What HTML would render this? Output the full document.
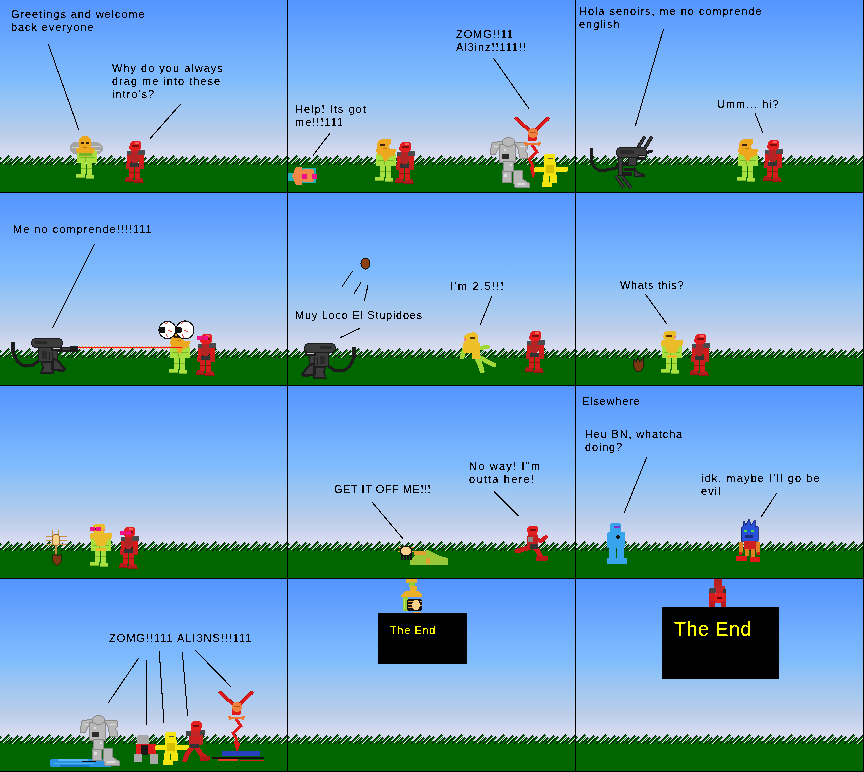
<!DOCTYPE html>
<html><head><meta charset="utf-8">
<style>
html,body{margin:0;padding:0;background:#000;}
body{width:864px;height:772px;position:relative;overflow:hidden;font-family:"Liberation Sans",sans-serif;}
.p{position:absolute;width:287px;height:192px;overflow:hidden;background:linear-gradient(to bottom,#5494ff 0px,#6aa8fe 40px,#76b3fe 60px,#7ebbfd 80px,#96c4f4 100px,#aacaee 120px,#bccdea 135px,#d0d8ee 150px,#d6dcf0 155px);}
.g{position:absolute;left:0;top:155px;width:287px;height:37px;}
.t{position:absolute;font-size:11px;line-height:13px;color:#000;white-space:pre;filter:url(#crisp);}
svg{position:absolute;left:0;top:0;}
</style></head><body>

<svg width="0" height="0" style="position:absolute" shape-rendering="crispEdges"><defs><pattern id="gr" x="0" y="0" width="62" height="37" patternUnits="userSpaceOnUse">
<rect x="0" y="7" width="62" height="30" fill="#006600"/>
<path fill="#006600" d="M-54,1h2v1h-2zM-55,2h2v1h-2zM-56,3h2v1h-2zM-53,3h1v1h-1zM-57,4h2v1h-2zM-54,4h1v1h-1zM-58,5h2v1h-2zM-55,5h1v1h-1zM-59,6h2v1h-2zM-56,6h1v1h-1zM-60,7h2v1h-2zM-57,7h1v1h-1zM-61,8h2v1h-2zM-58,8h1v1h-1zM-62,9h2v1h-2zM8,1h2v1h-2zM7,2h2v1h-2zM6,3h2v1h-2zM9,3h1v1h-1zM5,4h2v1h-2zM8,4h1v1h-1zM4,5h2v1h-2zM7,5h1v1h-1zM3,6h2v1h-2zM6,6h1v1h-1zM2,7h2v1h-2zM5,7h1v1h-1zM1,8h2v1h-2zM4,8h1v1h-1zM0,9h2v1h-2zM70,1h2v1h-2zM69,2h2v1h-2zM68,3h2v1h-2zM71,3h1v1h-1zM67,4h2v1h-2zM70,4h1v1h-1zM66,5h2v1h-2zM69,5h1v1h-1zM65,6h2v1h-2zM68,6h1v1h-1zM64,7h2v1h-2zM67,7h1v1h-1zM63,8h2v1h-2zM66,8h1v1h-1zM62,9h2v1h-2zM-51,4h2v1h-2zM-52,5h2v1h-2zM-53,6h2v1h-2zM-54,7h2v1h-2zM-55,8h2v1h-2zM-56,9h2v1h-2zM11,4h2v1h-2zM10,5h2v1h-2zM9,6h2v1h-2zM8,7h2v1h-2zM7,8h2v1h-2zM6,9h2v1h-2zM73,4h2v1h-2zM72,5h2v1h-2zM71,6h2v1h-2zM70,7h2v1h-2zM69,8h2v1h-2zM68,9h2v1h-2zM-45,2h2v1h-2zM-46,3h2v1h-2zM-47,4h2v1h-2zM-44,4h1v1h-1zM-48,5h2v1h-2zM-45,5h1v1h-1zM-49,6h2v1h-2zM-46,6h1v1h-1zM-50,7h2v1h-2zM-47,7h1v1h-1zM-51,8h2v1h-2zM-48,8h1v1h-1zM-52,9h2v1h-2zM-49,9h1v1h-1zM17,2h2v1h-2zM16,3h2v1h-2zM15,4h2v1h-2zM18,4h1v1h-1zM14,5h2v1h-2zM17,5h1v1h-1zM13,6h2v1h-2zM16,6h1v1h-1zM12,7h2v1h-2zM15,7h1v1h-1zM11,8h2v1h-2zM14,8h1v1h-1zM10,9h2v1h-2zM13,9h1v1h-1zM79,2h2v1h-2zM78,3h2v1h-2zM77,4h2v1h-2zM80,4h1v1h-1zM76,5h2v1h-2zM79,5h1v1h-1zM75,6h2v1h-2zM78,6h1v1h-1zM74,7h2v1h-2zM77,7h1v1h-1zM73,8h2v1h-2zM76,8h1v1h-1zM72,9h2v1h-2zM75,9h1v1h-1zM-41,3h2v1h-2zM-42,4h2v1h-2zM-43,5h2v1h-2zM-44,6h2v1h-2zM-45,7h2v1h-2zM-46,8h2v1h-2zM-47,9h2v1h-2zM21,3h2v1h-2zM20,4h2v1h-2zM19,5h2v1h-2zM18,6h2v1h-2zM17,7h2v1h-2zM16,8h2v1h-2zM15,9h2v1h-2zM83,3h2v1h-2zM82,4h2v1h-2zM81,5h2v1h-2zM80,6h2v1h-2zM79,7h2v1h-2zM78,8h2v1h-2zM77,9h2v1h-2zM-33,1h2v1h-2zM-34,2h2v1h-2zM-35,3h2v1h-2zM-32,3h1v1h-1zM-36,4h2v1h-2zM-33,4h1v1h-1zM-37,5h2v1h-2zM-34,5h1v1h-1zM-38,6h2v1h-2zM-35,6h1v1h-1zM-39,7h2v1h-2zM-36,7h1v1h-1zM-40,8h2v1h-2zM-37,8h1v1h-1zM-41,9h2v1h-2zM29,1h2v1h-2zM28,2h2v1h-2zM27,3h2v1h-2zM30,3h1v1h-1zM26,4h2v1h-2zM29,4h1v1h-1zM25,5h2v1h-2zM28,5h1v1h-1zM24,6h2v1h-2zM27,6h1v1h-1zM23,7h2v1h-2zM26,7h1v1h-1zM22,8h2v1h-2zM25,8h1v1h-1zM21,9h2v1h-2zM91,1h2v1h-2zM90,2h2v1h-2zM89,3h2v1h-2zM92,3h1v1h-1zM88,4h2v1h-2zM91,4h1v1h-1zM87,5h2v1h-2zM90,5h1v1h-1zM86,6h2v1h-2zM89,6h1v1h-1zM85,7h2v1h-2zM88,7h1v1h-1zM84,8h2v1h-2zM87,8h1v1h-1zM83,9h2v1h-2zM-30,4h2v1h-2zM-31,5h2v1h-2zM-32,6h2v1h-2zM-33,7h2v1h-2zM-34,8h2v1h-2zM-35,9h2v1h-2zM32,4h2v1h-2zM31,5h2v1h-2zM30,6h2v1h-2zM29,7h2v1h-2zM28,8h2v1h-2zM27,9h2v1h-2zM94,4h2v1h-2zM93,5h2v1h-2zM92,6h2v1h-2zM91,7h2v1h-2zM90,8h2v1h-2zM89,9h2v1h-2zM-24,2h2v1h-2zM-25,3h2v1h-2zM-26,4h2v1h-2zM-23,4h1v1h-1zM-27,5h2v1h-2zM-24,5h1v1h-1zM-28,6h2v1h-2zM-25,6h1v1h-1zM-29,7h2v1h-2zM-26,7h1v1h-1zM-30,8h2v1h-2zM-27,8h1v1h-1zM-31,9h2v1h-2zM-28,9h1v1h-1zM38,2h2v1h-2zM37,3h2v1h-2zM36,4h2v1h-2zM39,4h1v1h-1zM35,5h2v1h-2zM38,5h1v1h-1zM34,6h2v1h-2zM37,6h1v1h-1zM33,7h2v1h-2zM36,7h1v1h-1zM32,8h2v1h-2zM35,8h1v1h-1zM31,9h2v1h-2zM34,9h1v1h-1zM100,2h2v1h-2zM99,3h2v1h-2zM98,4h2v1h-2zM101,4h1v1h-1zM97,5h2v1h-2zM100,5h1v1h-1zM96,6h2v1h-2zM99,6h1v1h-1zM95,7h2v1h-2zM98,7h1v1h-1zM94,8h2v1h-2zM97,8h1v1h-1zM93,9h2v1h-2zM96,9h1v1h-1zM-20,3h2v1h-2zM-21,4h2v1h-2zM-22,5h2v1h-2zM-23,6h2v1h-2zM-24,7h2v1h-2zM-25,8h2v1h-2zM-26,9h2v1h-2zM42,3h2v1h-2zM41,4h2v1h-2zM40,5h2v1h-2zM39,6h2v1h-2zM38,7h2v1h-2zM37,8h2v1h-2zM36,9h2v1h-2zM104,3h2v1h-2zM103,4h2v1h-2zM102,5h2v1h-2zM101,6h2v1h-2zM100,7h2v1h-2zM99,8h2v1h-2zM98,9h2v1h-2zM-13,1h2v1h-2zM-14,2h2v1h-2zM-15,3h2v1h-2zM-12,3h1v1h-1zM-16,4h2v1h-2zM-13,4h1v1h-1zM-17,5h2v1h-2zM-14,5h1v1h-1zM-18,6h2v1h-2zM-15,6h1v1h-1zM-19,7h2v1h-2zM-16,7h1v1h-1zM-20,8h2v1h-2zM-17,8h1v1h-1zM-21,9h2v1h-2zM49,1h2v1h-2zM48,2h2v1h-2zM47,3h2v1h-2zM50,3h1v1h-1zM46,4h2v1h-2zM49,4h1v1h-1zM45,5h2v1h-2zM48,5h1v1h-1zM44,6h2v1h-2zM47,6h1v1h-1zM43,7h2v1h-2zM46,7h1v1h-1zM42,8h2v1h-2zM45,8h1v1h-1zM41,9h2v1h-2zM111,1h2v1h-2zM110,2h2v1h-2zM109,3h2v1h-2zM112,3h1v1h-1zM108,4h2v1h-2zM111,4h1v1h-1zM107,5h2v1h-2zM110,5h1v1h-1zM106,6h2v1h-2zM109,6h1v1h-1zM105,7h2v1h-2zM108,7h1v1h-1zM104,8h2v1h-2zM107,8h1v1h-1zM103,9h2v1h-2zM-10,4h2v1h-2zM-11,5h2v1h-2zM-12,6h2v1h-2zM-13,7h2v1h-2zM-14,8h2v1h-2zM-15,9h2v1h-2zM52,4h2v1h-2zM51,5h2v1h-2zM50,6h2v1h-2zM49,7h2v1h-2zM48,8h2v1h-2zM47,9h2v1h-2zM114,4h2v1h-2zM113,5h2v1h-2zM112,6h2v1h-2zM111,7h2v1h-2zM110,8h2v1h-2zM109,9h2v1h-2zM-4,2h2v1h-2zM-5,3h2v1h-2zM-6,4h2v1h-2zM-3,4h1v1h-1zM-7,5h2v1h-2zM-4,5h1v1h-1zM-8,6h2v1h-2zM-5,6h1v1h-1zM-9,7h2v1h-2zM-6,7h1v1h-1zM-10,8h2v1h-2zM-7,8h1v1h-1zM-11,9h2v1h-2zM-8,9h1v1h-1zM58,2h2v1h-2zM57,3h2v1h-2zM56,4h2v1h-2zM59,4h1v1h-1zM55,5h2v1h-2zM58,5h1v1h-1zM54,6h2v1h-2zM57,6h1v1h-1zM53,7h2v1h-2zM56,7h1v1h-1zM52,8h2v1h-2zM55,8h1v1h-1zM51,9h2v1h-2zM54,9h1v1h-1zM120,2h2v1h-2zM119,3h2v1h-2zM118,4h2v1h-2zM121,4h1v1h-1zM117,5h2v1h-2zM120,5h1v1h-1zM116,6h2v1h-2zM119,6h1v1h-1zM115,7h2v1h-2zM118,7h1v1h-1zM114,8h2v1h-2zM117,8h1v1h-1zM113,9h2v1h-2zM116,9h1v1h-1zM0,3h2v1h-2zM-1,4h2v1h-2zM-2,5h2v1h-2zM-3,6h2v1h-2zM-4,7h2v1h-2zM-5,8h2v1h-2zM-6,9h2v1h-2zM62,3h2v1h-2zM61,4h2v1h-2zM60,5h2v1h-2zM59,6h2v1h-2zM58,7h2v1h-2zM57,8h2v1h-2zM56,9h2v1h-2zM124,3h2v1h-2zM123,4h2v1h-2zM122,5h2v1h-2zM121,6h2v1h-2zM120,7h2v1h-2zM119,8h2v1h-2zM118,9h2v1h-2z"/>
<path fill="#000" d="M-54,0h1v1h-1zM-55,1h1v1h-1zM-56,2h1v1h-1zM-57,3h1v1h-1zM-58,4h1v1h-1zM-59,5h1v1h-1zM-60,6h1v1h-1zM-61,7h1v1h-1zM-62,8h1v1h-1zM-63,9h1v1h-1zM8,0h1v1h-1zM7,1h1v1h-1zM6,2h1v1h-1zM5,3h1v1h-1zM4,4h1v1h-1zM3,5h1v1h-1zM2,6h1v1h-1zM1,7h1v1h-1zM0,8h1v1h-1zM-1,9h1v1h-1zM70,0h1v1h-1zM69,1h1v1h-1zM68,2h1v1h-1zM67,3h1v1h-1zM66,4h1v1h-1zM65,5h1v1h-1zM64,6h1v1h-1zM63,7h1v1h-1zM62,8h1v1h-1zM61,9h1v1h-1zM-51,3h1v1h-1zM-52,4h1v1h-1zM-53,5h1v1h-1zM-54,6h1v1h-1zM-55,7h1v1h-1zM-56,8h1v1h-1zM-57,9h1v1h-1zM11,3h1v1h-1zM10,4h1v1h-1zM9,5h1v1h-1zM8,6h1v1h-1zM7,7h1v1h-1zM6,8h1v1h-1zM5,9h1v1h-1zM73,3h1v1h-1zM72,4h1v1h-1zM71,5h1v1h-1zM70,6h1v1h-1zM69,7h1v1h-1zM68,8h1v1h-1zM67,9h1v1h-1zM-45,1h1v1h-1zM-46,2h1v1h-1zM-47,3h1v1h-1zM-48,4h1v1h-1zM-49,5h1v1h-1zM-50,6h1v1h-1zM-51,7h1v1h-1zM-52,8h1v1h-1zM-53,9h1v1h-1zM17,1h1v1h-1zM16,2h1v1h-1zM15,3h1v1h-1zM14,4h1v1h-1zM13,5h1v1h-1zM12,6h1v1h-1zM11,7h1v1h-1zM10,8h1v1h-1zM9,9h1v1h-1zM79,1h1v1h-1zM78,2h1v1h-1zM77,3h1v1h-1zM76,4h1v1h-1zM75,5h1v1h-1zM74,6h1v1h-1zM73,7h1v1h-1zM72,8h1v1h-1zM71,9h1v1h-1zM-41,2h1v1h-1zM-42,3h1v1h-1zM-43,4h1v1h-1zM-44,5h1v1h-1zM-45,6h1v1h-1zM-46,7h1v1h-1zM-47,8h1v1h-1zM-48,9h1v1h-1zM21,2h1v1h-1zM20,3h1v1h-1zM19,4h1v1h-1zM18,5h1v1h-1zM17,6h1v1h-1zM16,7h1v1h-1zM15,8h1v1h-1zM14,9h1v1h-1zM83,2h1v1h-1zM82,3h1v1h-1zM81,4h1v1h-1zM80,5h1v1h-1zM79,6h1v1h-1zM78,7h1v1h-1zM77,8h1v1h-1zM76,9h1v1h-1zM-33,0h1v1h-1zM-34,1h1v1h-1zM-35,2h1v1h-1zM-36,3h1v1h-1zM-37,4h1v1h-1zM-38,5h1v1h-1zM-39,6h1v1h-1zM-40,7h1v1h-1zM-41,8h1v1h-1zM-42,9h1v1h-1zM29,0h1v1h-1zM28,1h1v1h-1zM27,2h1v1h-1zM26,3h1v1h-1zM25,4h1v1h-1zM24,5h1v1h-1zM23,6h1v1h-1zM22,7h1v1h-1zM21,8h1v1h-1zM20,9h1v1h-1zM91,0h1v1h-1zM90,1h1v1h-1zM89,2h1v1h-1zM88,3h1v1h-1zM87,4h1v1h-1zM86,5h1v1h-1zM85,6h1v1h-1zM84,7h1v1h-1zM83,8h1v1h-1zM82,9h1v1h-1zM-30,3h1v1h-1zM-31,4h1v1h-1zM-32,5h1v1h-1zM-33,6h1v1h-1zM-34,7h1v1h-1zM-35,8h1v1h-1zM-36,9h1v1h-1zM32,3h1v1h-1zM31,4h1v1h-1zM30,5h1v1h-1zM29,6h1v1h-1zM28,7h1v1h-1zM27,8h1v1h-1zM26,9h1v1h-1zM94,3h1v1h-1zM93,4h1v1h-1zM92,5h1v1h-1zM91,6h1v1h-1zM90,7h1v1h-1zM89,8h1v1h-1zM88,9h1v1h-1zM-24,1h1v1h-1zM-25,2h1v1h-1zM-26,3h1v1h-1zM-27,4h1v1h-1zM-28,5h1v1h-1zM-29,6h1v1h-1zM-30,7h1v1h-1zM-31,8h1v1h-1zM-32,9h1v1h-1zM38,1h1v1h-1zM37,2h1v1h-1zM36,3h1v1h-1zM35,4h1v1h-1zM34,5h1v1h-1zM33,6h1v1h-1zM32,7h1v1h-1zM31,8h1v1h-1zM30,9h1v1h-1zM100,1h1v1h-1zM99,2h1v1h-1zM98,3h1v1h-1zM97,4h1v1h-1zM96,5h1v1h-1zM95,6h1v1h-1zM94,7h1v1h-1zM93,8h1v1h-1zM92,9h1v1h-1zM-20,2h1v1h-1zM-21,3h1v1h-1zM-22,4h1v1h-1zM-23,5h1v1h-1zM-24,6h1v1h-1zM-25,7h1v1h-1zM-26,8h1v1h-1zM-27,9h1v1h-1zM42,2h1v1h-1zM41,3h1v1h-1zM40,4h1v1h-1zM39,5h1v1h-1zM38,6h1v1h-1zM37,7h1v1h-1zM36,8h1v1h-1zM35,9h1v1h-1zM104,2h1v1h-1zM103,3h1v1h-1zM102,4h1v1h-1zM101,5h1v1h-1zM100,6h1v1h-1zM99,7h1v1h-1zM98,8h1v1h-1zM97,9h1v1h-1zM-13,0h1v1h-1zM-14,1h1v1h-1zM-15,2h1v1h-1zM-16,3h1v1h-1zM-17,4h1v1h-1zM-18,5h1v1h-1zM-19,6h1v1h-1zM-20,7h1v1h-1zM-21,8h1v1h-1zM-22,9h1v1h-1zM49,0h1v1h-1zM48,1h1v1h-1zM47,2h1v1h-1zM46,3h1v1h-1zM45,4h1v1h-1zM44,5h1v1h-1zM43,6h1v1h-1zM42,7h1v1h-1zM41,8h1v1h-1zM40,9h1v1h-1zM111,0h1v1h-1zM110,1h1v1h-1zM109,2h1v1h-1zM108,3h1v1h-1zM107,4h1v1h-1zM106,5h1v1h-1zM105,6h1v1h-1zM104,7h1v1h-1zM103,8h1v1h-1zM102,9h1v1h-1zM-10,3h1v1h-1zM-11,4h1v1h-1zM-12,5h1v1h-1zM-13,6h1v1h-1zM-14,7h1v1h-1zM-15,8h1v1h-1zM-16,9h1v1h-1zM52,3h1v1h-1zM51,4h1v1h-1zM50,5h1v1h-1zM49,6h1v1h-1zM48,7h1v1h-1zM47,8h1v1h-1zM46,9h1v1h-1zM114,3h1v1h-1zM113,4h1v1h-1zM112,5h1v1h-1zM111,6h1v1h-1zM110,7h1v1h-1zM109,8h1v1h-1zM108,9h1v1h-1zM-4,1h1v1h-1zM-5,2h1v1h-1zM-6,3h1v1h-1zM-7,4h1v1h-1zM-8,5h1v1h-1zM-9,6h1v1h-1zM-10,7h1v1h-1zM-11,8h1v1h-1zM-12,9h1v1h-1zM58,1h1v1h-1zM57,2h1v1h-1zM56,3h1v1h-1zM55,4h1v1h-1zM54,5h1v1h-1zM53,6h1v1h-1zM52,7h1v1h-1zM51,8h1v1h-1zM50,9h1v1h-1zM120,1h1v1h-1zM119,2h1v1h-1zM118,3h1v1h-1zM117,4h1v1h-1zM116,5h1v1h-1zM115,6h1v1h-1zM114,7h1v1h-1zM113,8h1v1h-1zM112,9h1v1h-1zM0,2h1v1h-1zM-1,3h1v1h-1zM-2,4h1v1h-1zM-3,5h1v1h-1zM-4,6h1v1h-1zM-5,7h1v1h-1zM-6,8h1v1h-1zM-7,9h1v1h-1zM62,2h1v1h-1zM61,3h1v1h-1zM60,4h1v1h-1zM59,5h1v1h-1zM58,6h1v1h-1zM57,7h1v1h-1zM56,8h1v1h-1zM55,9h1v1h-1zM124,2h1v1h-1zM123,3h1v1h-1zM122,4h1v1h-1zM121,5h1v1h-1zM120,6h1v1h-1zM119,7h1v1h-1zM118,8h1v1h-1zM117,9h1v1h-1z"/>
<path fill="#f4f4ff" d="M-54,3h1v1h-1zM-55,4h1v1h-1zM-56,5h1v1h-1zM-57,6h1v1h-1zM-58,7h1v1h-1zM-59,8h1v1h-1zM8,3h1v1h-1zM7,4h1v1h-1zM6,5h1v1h-1zM5,6h1v1h-1zM4,7h1v1h-1zM3,8h1v1h-1zM70,3h1v1h-1zM69,4h1v1h-1zM68,5h1v1h-1zM67,6h1v1h-1zM66,7h1v1h-1zM65,8h1v1h-1zM-45,4h1v1h-1zM-46,5h1v1h-1zM-47,6h1v1h-1zM-48,7h1v1h-1zM-49,8h1v1h-1zM-50,9h1v1h-1zM17,4h1v1h-1zM16,5h1v1h-1zM15,6h1v1h-1zM14,7h1v1h-1zM13,8h1v1h-1zM12,9h1v1h-1zM79,4h1v1h-1zM78,5h1v1h-1zM77,6h1v1h-1zM76,7h1v1h-1zM75,8h1v1h-1zM74,9h1v1h-1zM-33,3h1v1h-1zM-34,4h1v1h-1zM-35,5h1v1h-1zM-36,6h1v1h-1zM-37,7h1v1h-1zM-38,8h1v1h-1zM29,3h1v1h-1zM28,4h1v1h-1zM27,5h1v1h-1zM26,6h1v1h-1zM25,7h1v1h-1zM24,8h1v1h-1zM91,3h1v1h-1zM90,4h1v1h-1zM89,5h1v1h-1zM88,6h1v1h-1zM87,7h1v1h-1zM86,8h1v1h-1zM-24,4h1v1h-1zM-25,5h1v1h-1zM-26,6h1v1h-1zM-27,7h1v1h-1zM-28,8h1v1h-1zM-29,9h1v1h-1zM38,4h1v1h-1zM37,5h1v1h-1zM36,6h1v1h-1zM35,7h1v1h-1zM34,8h1v1h-1zM33,9h1v1h-1zM100,4h1v1h-1zM99,5h1v1h-1zM98,6h1v1h-1zM97,7h1v1h-1zM96,8h1v1h-1zM95,9h1v1h-1zM-13,3h1v1h-1zM-14,4h1v1h-1zM-15,5h1v1h-1zM-16,6h1v1h-1zM-17,7h1v1h-1zM-18,8h1v1h-1zM49,3h1v1h-1zM48,4h1v1h-1zM47,5h1v1h-1zM46,6h1v1h-1zM45,7h1v1h-1zM44,8h1v1h-1zM111,3h1v1h-1zM110,4h1v1h-1zM109,5h1v1h-1zM108,6h1v1h-1zM107,7h1v1h-1zM106,8h1v1h-1zM-4,4h1v1h-1zM-5,5h1v1h-1zM-6,6h1v1h-1zM-7,7h1v1h-1zM-8,8h1v1h-1zM-9,9h1v1h-1zM58,4h1v1h-1zM57,5h1v1h-1zM56,6h1v1h-1zM55,7h1v1h-1zM54,8h1v1h-1zM53,9h1v1h-1zM120,4h1v1h-1zM119,5h1v1h-1zM118,6h1v1h-1zM117,7h1v1h-1zM116,8h1v1h-1zM115,9h1v1h-1z"/>
<rect x="0" y="10" width="62" height="27" fill="#006600"/>
</pattern><filter id="crisp" x="0" y="0" width="100%" height="100%" color-interpolation-filters="sRGB"><feComponentTransfer><feFuncA type="discrete" tableValues="0 0 0 0 0 0 0 0 0 1 1 1 1 1 1 1 1 1 1 1"/></feComponentTransfer></filter></defs></svg>
<div class="p" style="left:0px;top:0px"><svg class="g" width="287" height="37"><rect width="287" height="37" fill="url(#gr)"/></svg></div>
<div class="p" style="left:288px;top:0px"><svg class="g" width="287" height="37"><rect width="287" height="37" fill="url(#gr)"/></svg></div>
<div class="p" style="left:576px;top:0px"><svg class="g" width="287" height="37"><rect width="287" height="37" fill="url(#gr)"/></svg></div>
<div class="p" style="left:0px;top:193px"><svg class="g" width="287" height="37"><rect width="287" height="37" fill="url(#gr)"/></svg></div>
<div class="p" style="left:288px;top:193px"><svg class="g" width="287" height="37"><rect width="287" height="37" fill="url(#gr)"/></svg></div>
<div class="p" style="left:576px;top:193px"><svg class="g" width="287" height="37"><rect width="287" height="37" fill="url(#gr)"/></svg></div>
<div class="p" style="left:0px;top:386px"><svg class="g" width="287" height="37"><rect width="287" height="37" fill="url(#gr)"/></svg></div>
<div class="p" style="left:288px;top:386px"><svg class="g" width="287" height="37"><rect width="287" height="37" fill="url(#gr)"/></svg></div>
<div class="p" style="left:576px;top:386px"><svg class="g" width="287" height="37"><rect width="287" height="37" fill="url(#gr)"/></svg></div>
<div class="p" style="left:0px;top:579px"><svg class="g" width="287" height="37"><rect width="287" height="37" fill="url(#gr)"/></svg></div>
<div class="p" style="left:288px;top:579px"><svg class="g" width="287" height="37"><rect width="287" height="37" fill="url(#gr)"/></svg></div>
<div class="p" style="left:576px;top:579px"><svg class="g" width="287" height="37"><rect width="287" height="37" fill="url(#gr)"/></svg></div>
<div class="t" style="left:11px;top:8px;letter-spacing:0.9px">Greetings and welcome
back everyone</div>
<div class="t" style="left:112px;top:62px;letter-spacing:1.0px">Why do you always
drag me into these
intro's?</div>
<div class="t" style="left:456px;top:28px;letter-spacing:0.92px">ZOMG!!11
Al3inz!!111!!</div>
<div class="t" style="left:295px;top:103px;letter-spacing:1.0px">Help! Its got
me!!!111</div>
<div class="t" style="left:579px;top:5px;letter-spacing:0.95px">Hola senoirs, me no comprende
english</div>
<div class="t" style="left:717px;top:98px;letter-spacing:0.95px">Umm... hi?</div>
<div class="t" style="left:13px;top:223px;letter-spacing:1.0px">Me no comprende!!!!111</div>
<div class="t" style="left:295px;top:309px;letter-spacing:0.73px">Muy Loco El Stupidoes</div>
<div class="t" style="left:450px;top:280px;letter-spacing:1.31px">I'm 2.5!!!</div>
<div class="t" style="left:620px;top:279px;letter-spacing:0.61px">Whats this?</div>
<div class="t" style="left:334px;top:483px;letter-spacing:0.52px">GET IT OFF ME!!!</div>
<div class="t" style="left:469px;top:460px;letter-spacing:1.22px">No way! I&quot;m
outta here!</div>
<div class="t" style="left:582px;top:395px;letter-spacing:0.8px">Elsewhere</div>
<div class="t" style="left:585px;top:428px;letter-spacing:0.83px">Heu BN, whatcha
doing?</div>
<div class="t" style="left:701px;top:472px;letter-spacing:1.085px">idk, maybe I'll go be
evil</div>
<div class="t" style="left:109px;top:632px;letter-spacing:0.97px">ZOMG!!111 ALI3NS!!!111</div>
<svg width="864" height="772" style="position:absolute;left:0;top:0" shape-rendering="crispEdges">
<defs><clipPath id="c0"><rect x="0" y="0" width="287" height="192"/></clipPath><clipPath id="c1"><rect x="288" y="0" width="287" height="192"/></clipPath><clipPath id="c2"><rect x="576" y="0" width="287" height="192"/></clipPath><clipPath id="c3"><rect x="0" y="193" width="287" height="192"/></clipPath><clipPath id="c4"><rect x="288" y="193" width="287" height="192"/></clipPath><clipPath id="c5"><rect x="576" y="193" width="287" height="192"/></clipPath><clipPath id="c6"><rect x="0" y="386" width="287" height="192"/></clipPath><clipPath id="c7"><rect x="288" y="386" width="287" height="192"/></clipPath><clipPath id="c8"><rect x="576" y="386" width="287" height="192"/></clipPath><clipPath id="c9"><rect x="0" y="579" width="287" height="192"/></clipPath><clipPath id="c10"><rect x="288" y="579" width="287" height="192"/></clipPath><clipPath id="c11"><rect x="576" y="579" width="287" height="192"/></clipPath></defs>
<g stroke="#000" stroke-width="1" fill="none"><line x1="48.3" y1="44.2" x2="78.7" y2="129.5"/><line x1="180.8" y1="103.9" x2="150.1" y2="138.5"/><line x1="493.2" y1="57.8" x2="528.9" y2="108.6"/><line x1="329.9" y1="133.2" x2="313.2" y2="155.3"/><line x1="663.5" y1="28.9" x2="635.3" y2="126"/><line x1="755" y1="113.3" x2="762.8" y2="132.7"/><line x1="94.4" y1="244" x2="52.4" y2="328.3"/><line x1="352.6" y1="271" x2="342.2" y2="286.5"/><line x1="361.1" y1="282.4" x2="354.2" y2="293.5"/><line x1="368" y1="285.3" x2="364.4" y2="300.6"/><line x1="359.8" y1="328.4" x2="340.3" y2="337.6"/><line x1="491.8" y1="296.5" x2="480.2" y2="324.8"/><line x1="645.3" y1="294.1" x2="666.6" y2="323.6"/><line x1="372.2" y1="502.2" x2="403" y2="538.8"/><line x1="493.9" y1="491.2" x2="518.8" y2="516.1"/><line x1="646.7" y1="457.3" x2="624.3" y2="512.5"/><line x1="776.7" y1="493.2" x2="761.3" y2="516.7"/><line x1="138.5" y1="658.3" x2="108.3" y2="702.8"/><line x1="146.5" y1="660.2" x2="146.5" y2="724.6"/><line x1="159.3" y1="651.5" x2="163.9" y2="722.8"/><line x1="182.4" y1="652.4" x2="187.6" y2="715.7"/><line x1="195" y1="650" x2="230.9" y2="686.7"/></g>
<path d="M70,146 Q72,141 79,142 L82,150 L78,155 Q71,154 70,150 Z" fill="#a4a4a4"/><path d="M88,143 Q98,140 103,146 L103,151 Q99,156 90,155 L86,150 Z" fill="#a4a4a4"/><path d="M90,146 L101,146 M90,150 L100,151 M72,147 L79,147" stroke="#d0d0d0" stroke-width="1"/>
<g transform="translate(76,136)"><rect x="0" y="38" width="9" height="4" fill="#a8e040" rx="1"/><rect x="10" y="39" width="8" height="4" fill="#a8e040" rx="1"/><rect x="0" y="41" width="9" height="1" fill="#78b428"/><rect x="10" y="42" width="8" height="1" fill="#78b428"/><rect x="5" y="26" width="5" height="12" fill="#a8e040"/><rect x="11" y="26" width="5" height="13" fill="#a8e040"/><rect x="5" y="32" width="5" height="1" fill="#78b428"/><rect x="11" y="32" width="5" height="1" fill="#78b428"/><rect x="3" y="14" width="16" height="13" fill="#a8e040" rx="1"/><rect x="1" y="15" width="4" height="12" fill="#a8e040" rx="1"/><rect x="17" y="15" width="4" height="12" fill="#a8e040" rx="1"/><rect x="9" y="17" width="1" height="9" fill="#78b428"/><rect x="3" y="21" width="16" height="1" fill="#78b428"/><path d="M0,12 L19,12 L18,17 L12,19 L10,22 L8,19 L1,17 Z" fill="#eea820"/><rect x="3" y="17" width="13" height="3" fill="#78b428"/><circle cx="9" cy="6.5" r="6.5" fill="#eea820"/><rect x="3" y="8" width="12" height="5" fill="#eea820"/><rect x="5" y="6" width="3" height="1.5" fill="#302000"/><rect x="10" y="6" width="3" height="1.5" fill="#302000"/><rect x="7" y="11" width="4" height="1" fill="#c07810"/></g>
<g transform="translate(125,141)"><path d="M1,36 L8,36 L9,41 L0,41 Z" fill="#b01c1c"/><path d="M10,37 L17,37 L19,42 L9,42 Z" fill="#b01c1c"/><rect x="0" y="40" width="9" height="1" fill="#8c1414"/><rect x="9" y="41" width="10" height="1" fill="#8c1414"/><rect x="4" y="26" width="5" height="11" fill="#d41c1c"/><rect x="10" y="26" width="5" height="12" fill="#d41c1c"/><rect x="4" y="31" width="5" height="1" fill="#8c1414"/><rect x="10" y="31" width="5" height="1" fill="#8c1414"/><rect x="2" y="13" width="4" height="11" fill="#d61a1a"/><rect x="14" y="13" width="5" height="11" fill="#d61a1a"/><rect x="1" y="22" width="5" height="6" fill="#c02020" rx="1.5"/><rect x="13" y="22" width="6" height="6" fill="#c02020" rx="1.5"/><path d="M4,10 L14,10 L14,20 L9,24 L5,20 Z" fill="#b42424"/><rect x="5" y="22" width="9" height="4" fill="#333"/><rect x="2" y="10" width="4" height="4" fill="#4a4a4a" rx="1"/><rect x="13" y="9" width="7" height="5" fill="#4a4a4a" rx="1.5"/><path d="M5,2 Q6,0 9,0 L13,0 Q16,0 16,3 L16,8 L13,10 L7,10 L4,8 Z" fill="#e41e1e"/><rect x="7" y="4" width="7" height="2" fill="#7a0c0c"/><rect x="10" y="1" width="4" height="2" fill="#ff6060"/></g>
<g clip-path="url(#c1)"><rect x="286" y="173" width="10" height="8" fill="#20b0b8"/><rect x="301" y="168" width="15" height="15" fill="#20b0b8"/><path d="M296,167 L302,167 L302,185 L296,185 L292,176 Z" fill="#f08848"/><rect x="302" y="169" width="12" height="13" fill="#f08848" rx="3"/><rect x="302" y="174" width="5" height="5" fill="#f0108a"/><rect x="312" y="174" width="5" height="5" fill="#f0108a"/></g>
<g transform="translate(375,139)"><rect x="0" y="38" width="9" height="4" fill="#a8e040" rx="1"/><rect x="10" y="39" width="8" height="4" fill="#a8e040" rx="1"/><rect x="0" y="41" width="9" height="1" fill="#78b428"/><rect x="10" y="42" width="8" height="1" fill="#78b428"/><rect x="5" y="26" width="5" height="12" fill="#a8e040"/><rect x="11" y="26" width="5" height="13" fill="#a8e040"/><rect x="5" y="32" width="5" height="1" fill="#78b428"/><rect x="11" y="32" width="5" height="1" fill="#78b428"/><rect x="3" y="14" width="16" height="13" fill="#a8e040" rx="1"/><rect x="1" y="15" width="4" height="12" fill="#a8e040" rx="1"/><rect x="17" y="15" width="4" height="12" fill="#a8e040" rx="1"/><rect x="9" y="17" width="1" height="9" fill="#78b428"/><rect x="3" y="21" width="16" height="1" fill="#78b428"/><path d="M1,10 L21,10 L20,16 L14,18 L12,22 L9,22 L7,17 L2,15 Z" fill="#eea820"/><path d="M3,2 Q5,0 9,0 L15,0 Q17,1 16,4 L14,7 L15,11 L12,13 L7,14 L2,11 L2,6 Z" fill="#eea820"/><rect x="5" y="5" width="5" height="1.5" fill="#402000"/><rect x="8" y="9" width="4" height="1" fill="#c07810"/></g>
<g transform="translate(395,142)"><path d="M1,36 L8,36 L9,41 L0,41 Z" fill="#b01c1c"/><path d="M10,37 L17,37 L19,42 L9,42 Z" fill="#b01c1c"/><rect x="0" y="40" width="9" height="1" fill="#8c1414"/><rect x="9" y="41" width="10" height="1" fill="#8c1414"/><rect x="4" y="26" width="5" height="11" fill="#d41c1c"/><rect x="10" y="26" width="5" height="12" fill="#d41c1c"/><rect x="4" y="31" width="5" height="1" fill="#8c1414"/><rect x="10" y="31" width="5" height="1" fill="#8c1414"/><rect x="2" y="13" width="4" height="11" fill="#d61a1a"/><rect x="14" y="13" width="5" height="11" fill="#d61a1a"/><rect x="1" y="22" width="5" height="6" fill="#c02020" rx="1.5"/><rect x="13" y="22" width="6" height="6" fill="#c02020" rx="1.5"/><path d="M4,10 L14,10 L14,20 L9,24 L5,20 Z" fill="#b42424"/><rect x="5" y="22" width="9" height="4" fill="#333"/><rect x="2" y="10" width="4" height="4" fill="#4a4a4a" rx="1"/><rect x="13" y="9" width="7" height="5" fill="#4a4a4a" rx="1.5"/><path d="M5,2 Q6,0 9,0 L13,0 Q16,0 16,3 L16,8 L13,10 L7,10 L4,8 Z" fill="#e41e1e"/><rect x="7" y="4" width="7" height="2" fill="#7a0c0c"/><rect x="10" y="1" width="4" height="2" fill="#ff6060"/></g>
<g transform="translate(490,137)"><path d="M2,6 L12,4 L14,10 L8,12 L5,18 L0,17 L1,11 Z" fill="#b8b8b8" stroke="#8a8a8a" stroke-width="1"/><path d="M24,5 L37,6 L38,11 L35,14 L38,17 L37,22 L30,21 L28,12 Z" fill="#b8b8b8" stroke="#8a8a8a" stroke-width="1"/><path d="M12,33 L21,33 L21,45 L12,45 Z" fill="#b8b8b8" stroke="#8a8a8a" stroke-width="1"/><path d="M23,33 L32,33 L32,42 L39,46 L39,50 L25,50 L23,43 Z" fill="#b8b8b8" stroke="#8a8a8a" stroke-width="1"/><rect x="9" y="7" width="16" height="18" fill="#b8b8b8" stroke="#8a8a8a" stroke-width="1"/><rect x="13" y="24" width="10" height="10" fill="#b8b8b8" stroke="#8a8a8a" stroke-width="1"/><ellipse cx="18.5" cy="5" rx="6" ry="4.5" fill="#b8b8b8" stroke="#8a8a8a" stroke-width="1"/><rect x="12" y="17" width="7" height="5" fill="#2a2a2a"/><rect x="14" y="12" width="2" height="2" fill="#dcdcdc"/><rect x="20" y="27" width="2" height="2" fill="#dcdcdc"/><rect x="14" y="37" width="3" height="3" fill="#dcdcdc"/><rect x="27" y="46" width="8" height="2" fill="#dcdcdc"/><rect x="4" y="9" width="4" height="1" fill="#dcdcdc"/><rect x="30" y="9" width="5" height="1" fill="#dcdcdc"/></g>
<g transform="translate(485,112)"><path d="M31,6.5 L45,19 M63,6.5 L50,19" stroke="#a00" stroke-width="3.6" fill="none" stroke-linecap="round"/><path d="M31,6.5 L45,19 M63,6.5 L50,19" stroke="#e01a1a" stroke-width="2.6" fill="none" stroke-linecap="round"/><rect x="43" y="17" width="9" height="12" fill="#e01a1a" rx="2"/><circle cx="48" cy="21" r="5" fill="#f08040"/><rect x="45" y="20" width="6" height="1" fill="#b85020"/><path d="M39,29.5 L43,31 L52,31 L56,29.5 L55,34 L51,33 L44,33 L40,34 Z" fill="#f07830"/><path d="M47,33 L52,40 L44,47 L48,54 L47,60" stroke="#e01a1a" stroke-width="2.8" fill="none"/><path d="M44.5,55 L51.5,57 L48,67 Z" fill="#e01a1a"/></g>
<g transform="translate(485,112)"><rect x="59" y="42" width="11" height="9" fill="#f4e410" rx="2"/><rect x="49" y="55" width="34" height="5" fill="#f4e410" rx="2"/><rect x="59" y="50" width="12" height="14" fill="#f4e410"/><rect x="61" y="53" width="8" height="8" fill="#d4c000"/><rect x="58" y="63" width="6" height="12" fill="#f4e410"/><rect x="65" y="63" width="7" height="8" fill="#f4e410"/><rect x="57" y="70" width="10" height="5" fill="#f4e410"/><rect x="63" y="46" width="5" height="1" fill="#554"/></g>
<g transform="translate(584,132)"><path d="M7,16 L7,28 Q10,38 18,39 L32,36 L37,31" stroke="#1c1c1c" stroke-width="3" fill="none" stroke-linejoin="round"/><path d="M5.5,26 L7,15 L8.5,26 Z" fill="#1c1c1c"/><path d="M32,44 L40,56 M38,44 L47,56" stroke="#1c1c1c" stroke-width="3.5" fill="none"/><path d="M32,44 L40,56 M38,44 L47,56" stroke="#3c3c3c" stroke-width="1.5" fill="none"/><rect x="34" y="25" width="5" height="19" fill="#1c1c1c"/><rect x="35" y="26" width="3" height="17" fill="#3c3c3c"/><rect x="39" y="30" width="12" height="4" fill="#1c1c1c"/><rect x="40" y="36" width="10" height="3" fill="#1c1c1c"/><rect x="38" y="40" width="10" height="4" fill="#1c1c1c"/><rect x="44" y="25" width="9" height="9" fill="#1c1c1c"/><rect x="45" y="26" width="7" height="7" fill="#3c3c3c"/><path d="M50,34 L54,40 L61,42 L61,45 L50,45 Z" fill="#1c1c1c"/><path d="M51,38 L54,42 L59,43 L51,44 Z" fill="#3c3c3c"/><path d="M55,14 L60,6 M61,16 L67,6" stroke="#1c1c1c" stroke-width="3.5" fill="none" stroke-linecap="round"/><path d="M55,14 L60,6 M61,16 L67,6" stroke="#3c3c3c" stroke-width="1.5" fill="none" stroke-linecap="round"/><path d="M61,21 L68,19" stroke="#1c1c1c" stroke-width="3" fill="none" stroke-linecap="round"/><rect x="32" y="15" width="31" height="11" rx="5" fill="#1c1c1c"/><rect x="33" y="16" width="29" height="9" rx="4" fill="#3c3c3c"/><rect x="36" y="18" width="14" height="4" fill="#2a2a2a"/><rect x="54" y="23" width="8" height="5" fill="#1c1c1c"/><rect x="55" y="24" width="6" height="1" fill="#bbb"/></g>
<g transform="translate(737,139)"><rect x="0" y="38" width="9" height="4" fill="#a8e040" rx="1"/><rect x="10" y="39" width="8" height="4" fill="#a8e040" rx="1"/><rect x="0" y="41" width="9" height="1" fill="#78b428"/><rect x="10" y="42" width="8" height="1" fill="#78b428"/><rect x="5" y="26" width="5" height="12" fill="#a8e040"/><rect x="11" y="26" width="5" height="13" fill="#a8e040"/><rect x="5" y="32" width="5" height="1" fill="#78b428"/><rect x="11" y="32" width="5" height="1" fill="#78b428"/><rect x="3" y="14" width="16" height="13" fill="#a8e040" rx="1"/><rect x="1" y="15" width="4" height="12" fill="#a8e040" rx="1"/><rect x="17" y="15" width="4" height="12" fill="#a8e040" rx="1"/><rect x="9" y="17" width="1" height="9" fill="#78b428"/><rect x="3" y="21" width="16" height="1" fill="#78b428"/><path d="M1,10 L21,10 L20,16 L14,18 L12,22 L9,22 L7,17 L2,15 Z" fill="#eea820"/><path d="M3,2 Q5,0 9,0 L15,0 Q17,1 16,4 L14,7 L15,11 L12,13 L7,14 L2,11 L2,6 Z" fill="#eea820"/><rect x="5" y="5" width="5" height="1.5" fill="#402000"/><rect x="8" y="9" width="4" height="1" fill="#c07810"/></g>
<g transform="translate(763,140)"><path d="M1,36 L8,36 L9,41 L0,41 Z" fill="#b01c1c"/><path d="M10,37 L17,37 L19,42 L9,42 Z" fill="#b01c1c"/><rect x="0" y="40" width="9" height="1" fill="#8c1414"/><rect x="9" y="41" width="10" height="1" fill="#8c1414"/><rect x="4" y="26" width="5" height="11" fill="#d41c1c"/><rect x="10" y="26" width="5" height="12" fill="#d41c1c"/><rect x="4" y="31" width="5" height="1" fill="#8c1414"/><rect x="10" y="31" width="5" height="1" fill="#8c1414"/><rect x="2" y="13" width="4" height="11" fill="#d61a1a"/><rect x="14" y="13" width="5" height="11" fill="#d61a1a"/><rect x="1" y="22" width="5" height="6" fill="#c02020" rx="1.5"/><rect x="13" y="22" width="6" height="6" fill="#c02020" rx="1.5"/><path d="M4,10 L14,10 L14,20 L9,24 L5,20 Z" fill="#b42424"/><rect x="5" y="22" width="9" height="4" fill="#333"/><rect x="2" y="10" width="4" height="4" fill="#4a4a4a" rx="1"/><rect x="13" y="9" width="7" height="5" fill="#4a4a4a" rx="1.5"/><path d="M5,2 Q6,0 9,0 L13,0 Q16,0 16,3 L16,8 L13,10 L7,10 L4,8 Z" fill="#e41e1e"/><rect x="7" y="4" width="7" height="2" fill="#7a0c0c"/><rect x="10" y="1" width="4" height="2" fill="#ff6060"/></g>
<g transform="translate(0,330)"><path d="M13,12 L13,21 Q16,34 25,36 L33,35 L40,30" stroke="#1c1c1c" stroke-width="3.2" fill="none" stroke-linejoin="round"/><path d="M11.5,20 L13,10 L14.5,20 Z" fill="#1c1c1c"/><rect x="38" y="17" width="20" height="15" fill="#1c1c1c" rx="2"/><rect x="39" y="18" width="18" height="13" fill="#3c3c3c"/><rect x="42" y="21" width="5" height="8" fill="#2a2a2a"/><rect x="49" y="22" width="1" height="8" fill="#1c1c1c"/><rect x="52" y="22" width="1" height="8" fill="#1c1c1c"/><path d="M41,31 L53,31 L53,38 L54,44 L40,44 L42,38 Z" fill="#1c1c1c"/><path d="M43,33 L51,33 L51,38 L52,42 L42,42 L44,38 Z" fill="#3c3c3c"/><path d="M52,27 L59,30 L66,39 L64,42 L52,41 Z" fill="#1c1c1c"/><path d="M54,30 L58,32 L63,39 L54,39 Z" fill="#3c3c3c"/><rect x="58" y="17" width="14" height="5" fill="#1c1c1c"/><rect x="70" y="16" width="8" height="6" fill="#1c1c1c"/><rect x="60" y="18" width="10" height="2" fill="#3c3c3c"/><rect x="31" y="8" width="32" height="10" rx="5" fill="#1c1c1c"/><rect x="32" y="9" width="30" height="8" rx="4" fill="#3c3c3c"/><rect x="35" y="11" width="12" height="3" fill="#282828"/><rect x="51" y="17" width="11" height="4" fill="#1c1c1c"/><rect x="53" y="18" width="7" height="1" fill="#ccc"/></g>
<g transform="translate(169,331)"><rect x="0" y="38" width="9" height="4" fill="#a8e040" rx="1"/><rect x="10" y="39" width="8" height="4" fill="#a8e040" rx="1"/><rect x="0" y="41" width="9" height="1" fill="#78b428"/><rect x="10" y="42" width="8" height="1" fill="#78b428"/><rect x="5" y="26" width="5" height="12" fill="#a8e040"/><rect x="11" y="26" width="5" height="13" fill="#a8e040"/><rect x="5" y="32" width="5" height="1" fill="#78b428"/><rect x="11" y="32" width="5" height="1" fill="#78b428"/><rect x="3" y="14" width="16" height="13" fill="#a8e040" rx="1"/><rect x="1" y="15" width="4" height="12" fill="#a8e040" rx="1"/><rect x="17" y="15" width="4" height="12" fill="#a8e040" rx="1"/><rect x="9" y="17" width="1" height="9" fill="#78b428"/><rect x="3" y="21" width="16" height="1" fill="#78b428"/><path d="M1,10 L21,10 L20,16 L14,18 L12,22 L9,22 L7,17 L2,15 Z" fill="#eea820"/><path d="M3,2 Q5,0 9,0 L15,0 Q17,1 16,4 L14,7 L15,11 L12,13 L7,14 L2,11 L2,6 Z" fill="#eea820"/><rect x="5" y="5" width="5" height="1.5" fill="#402000"/><rect x="8" y="9" width="4" height="1" fill="#c07810"/></g>
<rect x="78" y="347" width="104" height="1" fill="#ff1010"/><rect x="79" y="346" width="1" height="1" fill="#f0a030"/><rect x="80" y="348" width="1" height="1" fill="#f0a030"/><rect x="82" y="346" width="1" height="1" fill="#f0a030"/><rect x="83" y="348" width="1" height="1" fill="#f0a030"/><rect x="85" y="346" width="1" height="1" fill="#f0a030"/><rect x="86" y="348" width="1" height="1" fill="#f0a030"/><rect x="88" y="346" width="1" height="1" fill="#f0a030"/><rect x="89" y="348" width="1" height="1" fill="#f0a030"/><rect x="91" y="346" width="1" height="1" fill="#f0a030"/><rect x="92" y="348" width="1" height="1" fill="#f0a030"/><rect x="94" y="346" width="1" height="1" fill="#f0a030"/><rect x="95" y="348" width="1" height="1" fill="#f0a030"/><rect x="97" y="346" width="1" height="1" fill="#f0a030"/><rect x="98" y="348" width="1" height="1" fill="#f0a030"/><rect x="100" y="346" width="1" height="1" fill="#f0a030"/><rect x="101" y="348" width="1" height="1" fill="#f0a030"/><rect x="103" y="346" width="1" height="1" fill="#f0a030"/><rect x="104" y="348" width="1" height="1" fill="#f0a030"/><rect x="106" y="346" width="1" height="1" fill="#f0a030"/><rect x="107" y="348" width="1" height="1" fill="#f0a030"/><rect x="109" y="346" width="1" height="1" fill="#f0a030"/><rect x="110" y="348" width="1" height="1" fill="#f0a030"/><rect x="112" y="346" width="1" height="1" fill="#f0a030"/><rect x="113" y="348" width="1" height="1" fill="#f0a030"/><rect x="115" y="346" width="1" height="1" fill="#f0a030"/><rect x="116" y="348" width="1" height="1" fill="#f0a030"/><rect x="118" y="346" width="1" height="1" fill="#f0a030"/><rect x="119" y="348" width="1" height="1" fill="#f0a030"/><rect x="121" y="346" width="1" height="1" fill="#f0a030"/><rect x="122" y="348" width="1" height="1" fill="#f0a030"/><rect x="124" y="346" width="1" height="1" fill="#f0a030"/><rect x="125" y="348" width="1" height="1" fill="#f0a030"/><rect x="127" y="346" width="1" height="1" fill="#f0a030"/><rect x="128" y="348" width="1" height="1" fill="#f0a030"/><rect x="130" y="346" width="1" height="1" fill="#f0a030"/><rect x="131" y="348" width="1" height="1" fill="#f0a030"/><rect x="133" y="346" width="1" height="1" fill="#f0a030"/><rect x="134" y="348" width="1" height="1" fill="#f0a030"/><rect x="136" y="346" width="1" height="1" fill="#f0a030"/><rect x="137" y="348" width="1" height="1" fill="#f0a030"/><rect x="139" y="346" width="1" height="1" fill="#f0a030"/><rect x="140" y="348" width="1" height="1" fill="#f0a030"/><rect x="142" y="346" width="1" height="1" fill="#f0a030"/><rect x="143" y="348" width="1" height="1" fill="#f0a030"/><rect x="145" y="346" width="1" height="1" fill="#f0a030"/><rect x="146" y="348" width="1" height="1" fill="#f0a030"/><rect x="148" y="346" width="1" height="1" fill="#f0a030"/><rect x="149" y="348" width="1" height="1" fill="#f0a030"/><rect x="151" y="346" width="1" height="1" fill="#f0a030"/><rect x="152" y="348" width="1" height="1" fill="#f0a030"/><rect x="154" y="346" width="1" height="1" fill="#f0a030"/><rect x="155" y="348" width="1" height="1" fill="#f0a030"/><rect x="157" y="346" width="1" height="1" fill="#f0a030"/><rect x="158" y="348" width="1" height="1" fill="#f0a030"/><rect x="160" y="346" width="1" height="1" fill="#f0a030"/><rect x="161" y="348" width="1" height="1" fill="#f0a030"/><rect x="163" y="346" width="1" height="1" fill="#f0a030"/><rect x="164" y="348" width="1" height="1" fill="#f0a030"/><rect x="166" y="346" width="1" height="1" fill="#f0a030"/><rect x="167" y="348" width="1" height="1" fill="#f0a030"/><rect x="169" y="346" width="1" height="1" fill="#f0a030"/><rect x="170" y="348" width="1" height="1" fill="#f0a030"/><rect x="172" y="346" width="1" height="1" fill="#f0a030"/><rect x="173" y="348" width="1" height="1" fill="#f0a030"/><rect x="175" y="346" width="1" height="1" fill="#f0a030"/><rect x="176" y="348" width="1" height="1" fill="#f0a030"/><rect x="178" y="346" width="1" height="1" fill="#f0a030"/><rect x="179" y="348" width="1" height="1" fill="#f0a030"/>
<circle cx="167.5" cy="330" r="8.5" fill="#fff" stroke="#111" stroke-width="1.2"/><circle cx="185" cy="330" r="9" fill="#fff" stroke="#111" stroke-width="1.2"/><circle cx="162" cy="330" r="3.5" fill="#111"/><circle cx="178.5" cy="330" r="3.5" fill="#111"/><path d="M165,324 L168,322 M166,334 L168,337 M168,330 L172,332 M181,324 L183,321 M182,334 L184,338 M184,330 L188,332" stroke="#e01010" stroke-width="0.8" fill="none"/>
<g transform="translate(196,334)"><path d="M1,36 L8,36 L9,41 L0,41 Z" fill="#b01c1c"/><path d="M10,37 L17,37 L19,42 L9,42 Z" fill="#b01c1c"/><rect x="0" y="40" width="9" height="1" fill="#8c1414"/><rect x="9" y="41" width="10" height="1" fill="#8c1414"/><rect x="4" y="26" width="5" height="11" fill="#d41c1c"/><rect x="10" y="26" width="5" height="12" fill="#d41c1c"/><rect x="4" y="31" width="5" height="1" fill="#8c1414"/><rect x="10" y="31" width="5" height="1" fill="#8c1414"/><rect x="2" y="13" width="4" height="11" fill="#d61a1a"/><rect x="14" y="13" width="5" height="11" fill="#d61a1a"/><rect x="1" y="22" width="5" height="6" fill="#c02020" rx="1.5"/><rect x="13" y="22" width="6" height="6" fill="#c02020" rx="1.5"/><path d="M4,10 L14,10 L14,20 L9,24 L5,20 Z" fill="#b42424"/><rect x="5" y="22" width="9" height="4" fill="#333"/><rect x="2" y="10" width="4" height="4" fill="#4a4a4a" rx="1"/><rect x="13" y="9" width="7" height="5" fill="#4a4a4a" rx="1.5"/><path d="M5,2 Q6,0 9,0 L13,0 Q16,0 16,3 L16,8 L13,10 L7,10 L4,8 Z" fill="#e41e1e"/><rect x="7" y="4" width="7" height="2" fill="#7a0c0c"/><rect x="10" y="1" width="4" height="2" fill="#ff6060"/></g>
<rect x="197" y="336" width="5" height="4" fill="#f0108c"/><rect x="203" y="336" width="5" height="4" fill="#f0108c"/>
<ellipse cx="365.5" cy="263.5" rx="4.5" ry="5.5" fill="#8a4010" stroke="#111" stroke-width="1"/>
<g transform="translate(367,335) scale(-1,1)"><path d="M13,12 L13,21 Q16,34 25,36 L33,35 L40,30" stroke="#1c1c1c" stroke-width="3.2" fill="none" stroke-linejoin="round"/><path d="M11.5,20 L13,10 L14.5,20 Z" fill="#1c1c1c"/><rect x="38" y="17" width="20" height="15" fill="#1c1c1c" rx="2"/><rect x="39" y="18" width="18" height="13" fill="#3c3c3c"/><rect x="42" y="21" width="5" height="8" fill="#2a2a2a"/><rect x="49" y="22" width="1" height="8" fill="#1c1c1c"/><rect x="52" y="22" width="1" height="8" fill="#1c1c1c"/><path d="M41,31 L53,31 L53,38 L54,44 L40,44 L42,38 Z" fill="#1c1c1c"/><path d="M43,33 L51,33 L51,38 L52,42 L42,42 L44,38 Z" fill="#3c3c3c"/><path d="M52,27 L59,30 L66,39 L64,42 L52,41 Z" fill="#1c1c1c"/><path d="M54,30 L58,32 L63,39 L54,39 Z" fill="#3c3c3c"/><rect x="31" y="8" width="32" height="10" rx="5" fill="#1c1c1c"/><rect x="32" y="9" width="30" height="8" rx="4" fill="#3c3c3c"/><rect x="35" y="11" width="12" height="3" fill="#282828"/><rect x="51" y="17" width="11" height="4" fill="#1c1c1c"/><rect x="53" y="18" width="7" height="1" fill="#ccc"/></g>
<path d="M465,348 L462,357" stroke="#a0d838" stroke-width="4.5" fill="none" stroke-linecap="round"/><path d="M477,358 L480,364 L482,371" stroke="#a0d838" stroke-width="5" fill="none" stroke-linecap="round"/><path d="M478,356 L486,361 L494,365" stroke="#a0d838" stroke-width="4.5" fill="none" stroke-linecap="round"/><path d="M479,348 L488,347" stroke="#a0d838" stroke-width="4" fill="none" stroke-linecap="round"/><rect x="463" y="342" width="17" height="11" fill="#eec028" rx="3"/><rect x="472" y="352" width="8" height="7" fill="#eec028"/><path d="M466,334 L474,332 L478,336 L478,342 L472,344 L465,342 L464,337 Z" fill="#eec028"/><rect x="470" y="337" width="5" height="1.5" fill="#503000"/><rect x="464" y="338" width="2" height="3" fill="#f08080"/>
<g transform="translate(525,331)"><path d="M1,36 L8,36 L9,41 L0,41 Z" fill="#b01c1c"/><path d="M10,37 L17,37 L19,42 L9,42 Z" fill="#b01c1c"/><rect x="0" y="40" width="9" height="1" fill="#8c1414"/><rect x="9" y="41" width="10" height="1" fill="#8c1414"/><rect x="4" y="26" width="5" height="11" fill="#d41c1c"/><rect x="10" y="26" width="5" height="12" fill="#d41c1c"/><rect x="4" y="31" width="5" height="1" fill="#8c1414"/><rect x="10" y="31" width="5" height="1" fill="#8c1414"/><rect x="2" y="13" width="4" height="11" fill="#d61a1a"/><rect x="14" y="13" width="5" height="11" fill="#d61a1a"/><rect x="1" y="22" width="5" height="6" fill="#c02020" rx="1.5"/><rect x="13" y="22" width="6" height="6" fill="#c02020" rx="1.5"/><path d="M4,10 L14,10 L14,20 L9,24 L5,20 Z" fill="#b42424"/><rect x="5" y="22" width="9" height="4" fill="#333"/><rect x="2" y="10" width="4" height="4" fill="#4a4a4a" rx="1"/><rect x="13" y="9" width="7" height="5" fill="#4a4a4a" rx="1.5"/><path d="M5,2 Q6,0 9,0 L13,0 Q16,0 16,3 L16,8 L13,10 L7,10 L4,8 Z" fill="#e41e1e"/><rect x="7" y="4" width="7" height="2" fill="#7a0c0c"/><rect x="10" y="1" width="4" height="2" fill="#ff6060"/></g>
<path d="M634,359 L636,362 L638,358 L640,362 L643,358 L644,366 L641,371 L636,371 L633.5,366 Z" fill="#7a3810" stroke="#111" stroke-width="0.8"/>
<g transform="translate(661,331)"><rect x="0" y="38" width="9" height="4" fill="#a8e040" rx="1"/><rect x="10" y="39" width="8" height="4" fill="#a8e040" rx="1"/><rect x="0" y="41" width="9" height="1" fill="#78b428"/><rect x="10" y="42" width="8" height="1" fill="#78b428"/><rect x="5" y="26" width="5" height="12" fill="#a8e040"/><rect x="11" y="26" width="5" height="13" fill="#a8e040"/><rect x="5" y="32" width="5" height="1" fill="#78b428"/><rect x="11" y="32" width="5" height="1" fill="#78b428"/><rect x="3" y="14" width="16" height="13" fill="#a8e040" rx="1"/><rect x="1" y="15" width="4" height="12" fill="#a8e040" rx="1"/><rect x="17" y="15" width="4" height="12" fill="#a8e040" rx="1"/><rect x="9" y="17" width="1" height="9" fill="#78b428"/><rect x="3" y="21" width="16" height="1" fill="#78b428"/><rect x="0" y="9" width="22" height="6" fill="#ecbc28" rx="2"/><path d="M3,14 L19,14 L15,22 L7,22 Z" fill="#ecbc28"/><rect x="6" y="24" width="10" height="3" fill="#ecbc28"/><path d="M3,2 Q4,0 8,0 L12,0 Q15,0 15,3 L14,9 L10,11 L5,10 L2,7 Z" fill="#ecbc28"/><rect x="5" y="4" width="6" height="1.5" fill="#503000"/><rect x="13" y="5" width="2" height="2" fill="#f08080"/></g>
<g transform="translate(690,334)"><path d="M1,36 L8,36 L9,41 L0,41 Z" fill="#b01c1c"/><path d="M10,37 L17,37 L19,42 L9,42 Z" fill="#b01c1c"/><rect x="0" y="40" width="9" height="1" fill="#8c1414"/><rect x="9" y="41" width="10" height="1" fill="#8c1414"/><rect x="4" y="26" width="5" height="11" fill="#d41c1c"/><rect x="10" y="26" width="5" height="12" fill="#d41c1c"/><rect x="4" y="31" width="5" height="1" fill="#8c1414"/><rect x="10" y="31" width="5" height="1" fill="#8c1414"/><rect x="2" y="13" width="4" height="11" fill="#d61a1a"/><rect x="14" y="13" width="5" height="11" fill="#d61a1a"/><rect x="1" y="22" width="5" height="6" fill="#c02020" rx="1.5"/><rect x="13" y="22" width="6" height="6" fill="#c02020" rx="1.5"/><path d="M4,10 L14,10 L14,20 L9,24 L5,20 Z" fill="#b42424"/><rect x="5" y="22" width="9" height="4" fill="#333"/><rect x="2" y="10" width="4" height="4" fill="#4a4a4a" rx="1"/><rect x="13" y="9" width="7" height="5" fill="#4a4a4a" rx="1.5"/><path d="M5,2 Q6,0 9,0 L13,0 Q16,0 16,3 L16,8 L13,10 L7,10 L4,8 Z" fill="#e41e1e"/><rect x="7" y="4" width="7" height="2" fill="#7a0c0c"/><rect x="10" y="1" width="4" height="2" fill="#ff6060"/></g>
<g><rect x="46" y="536" width="21" height="1" fill="#c89040"/><rect x="46" y="540" width="21" height="1" fill="#c89040"/><rect x="46" y="544" width="21" height="1" fill="#c89040"/><rect x="52" y="530" width="1" height="8" fill="#c89040"/><rect x="58" y="530" width="1" height="8" fill="#c89040"/><ellipse cx="56" cy="540" rx="4" ry="6" fill="#f8d088" stroke="#8a5010" stroke-width="0.8"/><rect x="55" y="546" width="2" height="8" fill="#c89040"/><path d="M52,556 L55,554 L58,556 L61,554 L61,562 L57,566 L53,562 Z" fill="#7a3810" stroke="#111" stroke-width="0.6"/></g>
<g transform="translate(90,524)"><rect x="0" y="38" width="9" height="4" fill="#a8e040" rx="1"/><rect x="10" y="39" width="8" height="4" fill="#a8e040" rx="1"/><rect x="0" y="41" width="9" height="1" fill="#78b428"/><rect x="10" y="42" width="8" height="1" fill="#78b428"/><rect x="5" y="26" width="5" height="12" fill="#a8e040"/><rect x="11" y="26" width="5" height="13" fill="#a8e040"/><rect x="5" y="32" width="5" height="1" fill="#78b428"/><rect x="11" y="32" width="5" height="1" fill="#78b428"/><rect x="3" y="14" width="16" height="13" fill="#a8e040" rx="1"/><rect x="1" y="15" width="4" height="12" fill="#a8e040" rx="1"/><rect x="17" y="15" width="4" height="12" fill="#a8e040" rx="1"/><rect x="9" y="17" width="1" height="9" fill="#78b428"/><rect x="3" y="21" width="16" height="1" fill="#78b428"/><rect x="0" y="9" width="22" height="6" fill="#ecbc28" rx="2"/><path d="M3,14 L19,14 L15,22 L7,22 Z" fill="#ecbc28"/><rect x="6" y="24" width="10" height="3" fill="#ecbc28"/><path d="M3,2 Q4,0 8,0 L12,0 Q15,0 15,3 L14,9 L10,11 L5,10 L2,7 Z" fill="#ecbc28"/><rect x="5" y="4" width="6" height="1.5" fill="#503000"/><rect x="13" y="5" width="2" height="2" fill="#f08080"/></g>
<rect x="90" y="527" width="5" height="4" fill="#f0108c"/><rect x="96" y="527" width="5" height="4" fill="#f0108c"/>
<g transform="translate(119,527)"><path d="M1,36 L8,36 L9,41 L0,41 Z" fill="#b01c1c"/><path d="M10,37 L17,37 L19,42 L9,42 Z" fill="#b01c1c"/><rect x="0" y="40" width="9" height="1" fill="#8c1414"/><rect x="9" y="41" width="10" height="1" fill="#8c1414"/><rect x="4" y="26" width="5" height="11" fill="#d41c1c"/><rect x="10" y="26" width="5" height="12" fill="#d41c1c"/><rect x="4" y="31" width="5" height="1" fill="#8c1414"/><rect x="10" y="31" width="5" height="1" fill="#8c1414"/><rect x="2" y="13" width="4" height="11" fill="#d61a1a"/><rect x="14" y="13" width="5" height="11" fill="#d61a1a"/><rect x="1" y="22" width="5" height="6" fill="#c02020" rx="1.5"/><rect x="13" y="22" width="6" height="6" fill="#c02020" rx="1.5"/><path d="M4,10 L14,10 L14,20 L9,24 L5,20 Z" fill="#b42424"/><rect x="5" y="22" width="9" height="4" fill="#333"/><rect x="2" y="10" width="4" height="4" fill="#4a4a4a" rx="1"/><rect x="13" y="9" width="7" height="5" fill="#4a4a4a" rx="1.5"/><path d="M5,2 Q6,0 9,0 L13,0 Q16,0 16,3 L16,8 L13,10 L7,10 L4,8 Z" fill="#e41e1e"/><rect x="7" y="4" width="7" height="2" fill="#7a0c0c"/><rect x="10" y="1" width="4" height="2" fill="#ff6060"/></g>
<rect x="120" y="531" width="5" height="4" fill="#f0108c"/><rect x="126" y="531" width="5" height="4" fill="#f0108c"/>
<path d="M410,560 L418,552 L428,550 L440,556 L448,558 L448,565 L410,565 Z" fill="#98c838"/><rect x="414" y="551" width="12" height="4" fill="#e0a030"/><rect x="426" y="558" width="4" height="6" fill="#e0a030"/>
<g transform="translate(398,545)"><rect x="3" y="9" width="1.5" height="6" fill="#111"/><rect x="6" y="9" width="1.5" height="6" fill="#111"/><rect x="9" y="9" width="1.5" height="6" fill="#111"/><rect x="12" y="9" width="1.5" height="6" fill="#111"/><rect x="0" y="2" width="3" height="1" fill="#e8a040"/><rect x="0" y="6" width="3" height="1" fill="#e8a040"/><rect x="13" y="2" width="3" height="1" fill="#e8a040"/><rect x="13" y="6" width="3" height="1" fill="#e8a040"/><ellipse cx="8" cy="6" rx="6" ry="5" fill="#f8d088" stroke="#111" stroke-width="1"/></g>
<path d="M531,547 L524,549 L517,551" stroke="#c81c1c" stroke-width="5" fill="none" stroke-linecap="round"/><path d="M534,546 L539,553 L541,558" stroke="#d41c1c" stroke-width="5" fill="none" stroke-linecap="round"/><rect x="536" y="556" width="12" height="5" fill="#b81818" rx="2"/><path d="M535,539 L541,541 L546,537" stroke="#d41c1c" stroke-width="4" fill="none" stroke-linecap="round"/><rect x="527" y="535" width="11" height="12" fill="#c02020" rx="2"/><rect x="528" y="537" width="5" height="5" fill="#8a8a8a"/><rect x="530" y="544" width="8" height="5" fill="#333"/><path d="M527,529 Q528,526 532,526 L536,526 Q538,527 538,530 L537,535 L528,535 Z" fill="#e41e1e"/><rect x="530" y="529" width="6" height="2" fill="#7a0c0c"/>
<g fill="#38a4ec"><rect x="610" y="523" width="11" height="10" fill="#38a4ec" rx="3"/><rect x="607" y="532" width="18" height="16" fill="#38a4ec" rx="2"/><rect x="609" y="547" width="7" height="15" fill="#38a4ec"/><rect x="617" y="547" width="7" height="15" fill="#38a4ec"/><rect x="607" y="558" width="20" height="6" fill="#38a4ec"/></g><circle cx="618" cy="537" r="1.8" fill="#111"/><rect x="614" y="526" width="6" height="2" fill="#8830d0"/>
<path d="M741,541 L741,528 L743,526 L744,521 L746,525 L749,519 L751,525 L755,520 L755,526 L758,527 L758,541 Z" fill="#2850d8" stroke="#101860" stroke-width="0.8"/><rect x="744" y="530" width="3" height="2" fill="#40e040"/><rect x="751" y="530" width="3" height="2" fill="#40e040"/><rect x="745" y="535" width="8" height="3" fill="#1a2a80"/><rect x="739" y="542" width="4" height="11" fill="#e08020"/><rect x="756" y="542" width="4" height="11" fill="#e08020"/><rect x="739" y="552" width="3" height="3" fill="#e01818"/><rect x="757" y="552" width="3" height="3" fill="#e01818"/><rect x="744" y="541" width="12" height="9" fill="#cc2020"/><rect x="745" y="549" width="4" height="7" fill="#e08020"/><rect x="751" y="549" width="4" height="8" fill="#e08020"/><rect x="736" y="556" width="11" height="5" fill="#e01818" rx="1.5"/><rect x="750" y="557" width="10" height="5" fill="#e01818" rx="1.5"/>
<rect x="50" y="759" width="62" height="8" fill="#2a94e4" rx="3"/><rect x="58" y="759" width="30" height="2" fill="#60b8f0"/><rect x="54" y="763" width="40" height="1" fill="#50b0f0"/><rect x="82" y="761" width="14" height="1" fill="#111"/><rect x="60" y="765" width="30" height="2" fill="#1478c8"/>
<g transform="translate(80,715)"><path d="M2,6 L12,4 L14,10 L8,12 L5,18 L0,17 L1,11 Z" fill="#b8b8b8" stroke="#8a8a8a" stroke-width="1"/><path d="M24,5 L37,6 L38,11 L35,14 L38,17 L37,22 L30,21 L28,12 Z" fill="#b8b8b8" stroke="#8a8a8a" stroke-width="1"/><path d="M12,33 L21,33 L21,45 L12,45 Z" fill="#b8b8b8" stroke="#8a8a8a" stroke-width="1"/><path d="M23,33 L32,33 L32,42 L39,46 L39,50 L25,50 L23,43 Z" fill="#b8b8b8" stroke="#8a8a8a" stroke-width="1"/><rect x="9" y="7" width="16" height="18" fill="#b8b8b8" stroke="#8a8a8a" stroke-width="1"/><rect x="13" y="24" width="10" height="10" fill="#b8b8b8" stroke="#8a8a8a" stroke-width="1"/><ellipse cx="18.5" cy="5" rx="6" ry="4.5" fill="#b8b8b8" stroke="#8a8a8a" stroke-width="1"/><rect x="12" y="17" width="7" height="5" fill="#2a2a2a"/><rect x="14" y="12" width="2" height="2" fill="#dcdcdc"/><rect x="20" y="27" width="2" height="2" fill="#dcdcdc"/><rect x="14" y="37" width="3" height="3" fill="#dcdcdc"/><rect x="27" y="46" width="8" height="2" fill="#dcdcdc"/><rect x="4" y="9" width="4" height="1" fill="#dcdcdc"/><rect x="30" y="9" width="5" height="1" fill="#dcdcdc"/></g>
<rect x="137" y="735" width="12" height="10" fill="#a8a8a8" rx="3"/><rect x="136" y="744" width="20" height="10" fill="#dd1a1a"/><rect x="141" y="745" width="7" height="10" fill="#181818"/><rect x="134" y="754" width="8" height="8" fill="#a8a8a8"/><rect x="150" y="754" width="8" height="10" fill="#a8a8a8"/>
<g transform="translate(106,690)"><rect x="59" y="42" width="11" height="9" fill="#f4e410" rx="2"/><rect x="49" y="55" width="34" height="5" fill="#f4e410" rx="2"/><rect x="59" y="50" width="12" height="14" fill="#f4e410"/><rect x="61" y="53" width="8" height="8" fill="#d4c000"/><rect x="58" y="63" width="6" height="12" fill="#f4e410"/><rect x="65" y="63" width="7" height="8" fill="#f4e410"/><rect x="57" y="70" width="10" height="5" fill="#f4e410"/><rect x="63" y="46" width="5" height="1" fill="#554"/></g>
<path d="M192,748 L187,754 L185,760" stroke="#c81c1c" stroke-width="5" fill="none" stroke-linecap="round"/><path d="M197,748 L201,754 L206,758" stroke="#c81c1c" stroke-width="5" fill="none" stroke-linecap="round"/><rect x="200" y="756" width="10" height="5" fill="#b01818" rx="2"/><rect x="189" y="731" width="14" height="14" fill="#c02424" rx="2"/><rect x="186" y="731" width="5" height="5" fill="#444" rx="1.5"/><rect x="200" y="730" width="5" height="5" fill="#444" rx="1.5"/><rect x="192" y="737" width="10" height="3" fill="#d41c1c"/><rect x="190" y="744" width="9" height="4" fill="#333"/><path d="M191,724 Q192,721 195,721 L199,721 Q202,722 202,725 L201,731 L191,731 Z" fill="#e41e1e"/><rect x="193" y="725" width="6" height="2" fill="#7a0c0c"/>
<g transform="translate(189,686)"><path d="M31,6.5 L45,19 M63,6.5 L50,19" stroke="#a00" stroke-width="3.6" fill="none" stroke-linecap="round"/><path d="M31,6.5 L45,19 M63,6.5 L50,19" stroke="#e01a1a" stroke-width="2.6" fill="none" stroke-linecap="round"/><rect x="43" y="17" width="9" height="12" fill="#e01a1a" rx="2"/><circle cx="48" cy="21" r="5" fill="#f08040"/><rect x="45" y="20" width="6" height="1" fill="#b85020"/><path d="M39,29.5 L43,31 L52,31 L56,29.5 L55,34 L51,33 L44,33 L40,34 Z" fill="#f07830"/><path d="M47,33 L52,40 L44,47 L48,54 L47,60" stroke="#e01a1a" stroke-width="2.8" fill="none"/><path d="M44.5,55 L51.5,57 L48,67 Z" fill="#e01a1a"/></g>
<rect x="222" y="751" width="38" height="5" fill="#2840c0"/><rect x="212" y="757" width="52" height="2" fill="#111"/><rect x="218" y="759" width="20" height="2" fill="#e04020"/><rect x="240" y="760" width="24" height="1" fill="#e02020"/>
<rect x="378" y="613" width="89" height="51" fill="#000"/>
<g clip-path="url(#c10)"><rect x="406" y="579" width="11" height="4" fill="#e8b028"/><rect x="409" y="582" width="6" height="5" fill="#98cc38"/><rect x="410" y="586" width="7" height="5" fill="#ecb028" rx="2"/><path d="M401,595 L405,591 L418,591 L422,595 L422,597 L401,597 Z" fill="#ecb028"/><rect x="403" y="597" width="5" height="14" fill="#98cc38"/><rect x="404" y="599" width="1" height="10" fill="#c0e860"/></g><g><rect x="407" y="599" width="15" height="12" fill="#111" rx="3"/><rect x="408" y="601" width="5" height="1" fill="#f0a040"/><rect x="408" y="604" width="5" height="1" fill="#f0a040"/><rect x="408" y="607" width="5" height="1" fill="#f0a040"/><rect x="413" y="612" width="8" height="1" fill="#f0a040"/><rect x="420" y="601" width="2" height="1" fill="#f0a040"/><rect x="420" y="605" width="2" height="1" fill="#f0a040"/><ellipse cx="416" cy="605" rx="3.8" ry="5.5" fill="#f8d088"/></g>
<rect x="662" y="607" width="117" height="72" fill="#000"/>
<g clip-path="url(#c11)"><rect x="714" y="579" width="8" height="8" fill="#b82020"/><rect x="714" y="586" width="11" height="7" fill="#c02424"/><rect x="709" y="588" width="7" height="5" fill="#444" rx="2"/><rect x="723" y="589" width="3" height="4" fill="#333"/><rect x="709" y="593" width="6" height="14" fill="#d41c1c"/><rect x="723" y="593" width="3" height="14" fill="#d41c1c"/><rect x="715" y="593" width="9" height="10" fill="#e41e1e" rx="2"/><rect x="717" y="597" width="5" height="2" fill="#600"/><rect x="710" y="601" width="5" height="6" fill="#b81c1c"/><rect x="721" y="601" width="5" height="6" fill="#b81c1c"/></g>
</svg>
<div class="t" style="left:390px;top:624px;letter-spacing:0.65px;color:#ffff00">The End</div>
<div class="t" style="left:674px;top:618px;font-size:19.5px;line-height:22px;letter-spacing:0.6px;color:#ffff00">The End</div>
</body></html>
